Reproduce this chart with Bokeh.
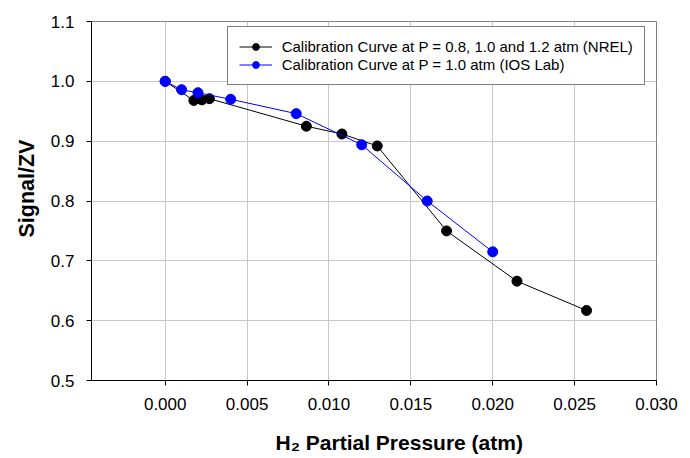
from bokeh.plotting import figure
from bokeh.models import FixedTicker, PrintfTickFormatter, Range1d, Title
from bokeh.embed import file_html
from bokeh.resources import INLINE

# Data
nrel_x = [0.0, 0.00175, 0.00224, 0.0027, 0.00862, 0.01079, 0.01295, 0.01718, 0.02148, 0.02573]
nrel_y = [1.0, 0.968, 0.969, 0.971, 0.925, 0.912, 0.892, 0.750, 0.666, 0.617]
ios_x = [0.0, 0.001, 0.002, 0.004, 0.008, 0.012, 0.016, 0.020]
ios_y = [1.0, 0.986, 0.981, 0.970, 0.946, 0.894, 0.800, 0.715]

x_ticks = [0.000, 0.005, 0.010, 0.015, 0.020, 0.025, 0.030]
y_ticks = [0.5, 0.6, 0.7, 0.8, 0.9, 1.0, 1.1]

nrel_label = "Calibration Curve at P = 0.8, 1.0 and 1.2 atm (NREL)"
ios_label = "Calibration Curve at P = 1.0 atm (IOS Lab)"

FONT = "Liberation Sans"

p = figure(
    frame_width=565, frame_height=359,
    output_backend="svg", toolbar_location=None,
    x_range=Range1d(-0.0045, 0.030), y_range=Range1d(0.5, 1.1),
    min_border_left=91, min_border_right=27, min_border_top=21, min_border_bottom=76,
    background_fill_color="white", border_fill_color="white",
)

p.outline_line_color = "#808080"
p.outline_line_width = 1

p.line(nrel_x, nrel_y, color="black", line_width=1, legend_label=nrel_label)
p.scatter(nrel_x, nrel_y, size=10, color="black", legend_label=nrel_label)
p.line(ios_x, ios_y, color="#0000ff", line_width=1, legend_label=ios_label)
p.scatter(ios_x, ios_y, size=10, color="#0000ff", legend_label=ios_label)

for ax in (p.xaxis[0], p.yaxis[0]):
    ax.axis_line_color = "black"
    ax.major_tick_line_color = "black"
    ax.major_tick_out = 5
    ax.major_tick_in = 0
    ax.minor_tick_line_color = None
    ax.major_label_text_font = FONT
    ax.major_label_text_font_size = "17px"
    ax.major_label_text_color = "black"
    ax.major_label_standoff = 12

p.xaxis.ticker = FixedTicker(ticks=x_ticks)
p.yaxis.ticker = FixedTicker(ticks=y_ticks)
p.xaxis.formatter = PrintfTickFormatter(format="%.3f")
p.yaxis.formatter = PrintfTickFormatter(format="%.1f")

xtitle = Title(text="H\u2082 Partial Pressure (atm)", align="left", offset=184, standoff=32,
               text_font=FONT, text_font_style="bold", text_font_size="21px",
               text_color="black")
p.add_layout(xtitle, "below")

ytitle = Title(text="Signal/ZV", align="left", offset=143, standoff=18,
               text_font=FONT, text_font_style="bold", text_font_size="21.5px",
               text_color="black")
p.add_layout(ytitle, "left")

p.xgrid.ticker = FixedTicker(ticks=x_ticks)
p.ygrid.ticker = FixedTicker(ticks=y_ticks)
p.grid.grid_line_color = "#c8c8c8"
p.grid.grid_line_width = 1

lg = p.legend[0]
lg.location = (135.7, 295)
lg.margin = 0
lg.padding = 11
lg.spacing = 1
lg.glyph_width = 33
lg.glyph_height = 17
lg.label_height = 17
lg.label_standoff = 10
lg.label_text_font = FONT
lg.label_text_font_size = "15px"
lg.label_text_color = "black"
lg.border_line_color = "black"
lg.border_line_width = 1
lg.background_fill_alpha = 1.0

open("out.html", "w").write(file_html(p, INLINE))
